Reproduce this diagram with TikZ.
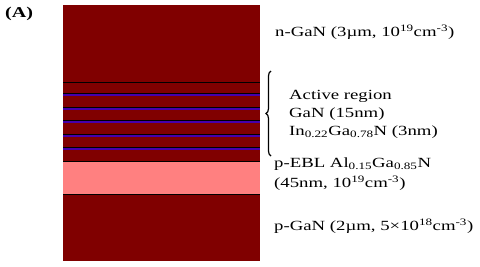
\documentclass[tikz,border=0pt]{standalone}
\usepackage{fontspec}
\setmainfont{Liberation Serif}[FakeStretch=1.34]
\usetikzlibrary{decorations.pathreplacing}
\definecolor{darkred}{RGB}{128,0,0}
\definecolor{ebl}{RGB}{255,128,128}
\definecolor{qw}{RGB}{70,0,170}
\begin{document}
\begin{tikzpicture}[x=1pt,y=-1pt,
  lbl/.style={anchor=west,inner sep=0pt,font=\fontsize{14}{16}\selectfont},
  sep/.style={draw=black,line width=1pt},
  qwl/.style={draw=qw,line width=1.7pt}]
\useasboundingbox (0,0) rectangle (480,266);
% layers
\fill[darkred] (63,5) rectangle (260,161);
\fill[ebl] (63,161) rectangle (260,194);
\fill[darkred] (63,194) rectangle (260,261);
\draw[sep] (63,82) -- (260,82);
\foreach \y in {94,107.5,121,134.5,148}{
  \draw[sep] (63,\y-0.5) -- (260,\y-0.5);
  \draw[qwl] (63,\y+1.2) -- (260,\y+1.2);
}
\draw[sep] (63,161) -- (260,161);
\draw[sep] (63,194) -- (260,194);
% labels
\node[lbl,font=\fontsize{15}{17}\selectfont\bfseries] (A) at (5,14) {(A)};
\node[lbl] (n) at (275,32) {n-GaN (3µm, 10\textsuperscript{19}cm\textsuperscript{-3})};
\coordinate (b1) at (271,71);
\coordinate (b2) at (271,156);
\draw[line width=1.2pt,decorate,decoration={brace,amplitude=5pt,mirror}] (b1) -- (b2);
\node[lbl] (act) at (289,96) {Active region};
\node[lbl] (gan) at (289,114) {GaN (15nm)};
\node[lbl] (ingan) at (289,132) {In\textsubscript{0.22}Ga\textsubscript{0.78}N (3nm)};
\node[lbl] (ebl1) at (274,164) {p-EBL Al\textsubscript{0.15}Ga\textsubscript{0.85}N};
\node[lbl] (ebl2) at (274,183) {(45nm, 10\textsuperscript{19}cm\textsuperscript{-3})};
\node[lbl] (p) at (274,226) {p-GaN (2µm, 5×10\textsuperscript{18}cm\textsuperscript{-3})};
\end{tikzpicture}
\end{document}
